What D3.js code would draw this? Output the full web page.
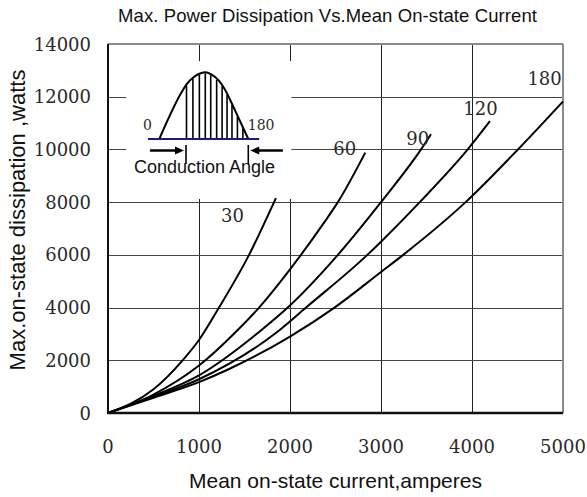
<!DOCTYPE html>
<html><head><meta charset="utf-8">
<script src="https://cdn.jsdelivr.net/npm/d3@7"></script>
<style>body{margin:0;background:#fff}</style>
</head><body>
<svg id="chart" width="587" height="497"></svg>
<script>
// ---- data ----
const xTicks = [0, 1000, 2000, 3000, 4000, 5000];
const yTicks = [0, 2000, 4000, 6000, 8000, 10000, 12000, 14000];
const angleLabels = ["30", "60", "90", "120", "180"];
const current30  = [0, 500, 820, 1000, 1220, 1550, 1845];
const power30    = [0, 900, 2000, 2770, 4000, 6000, 8150];
const current60  = [0, 500, 1000, 1420, 1660, 2000, 2380, 2526, 2827];
const power60    = [0, 700, 1800, 3130, 4000, 5450, 7250, 8000, 9880];
const current90  = [0, 500, 1000, 1680, 1975, 2526, 3000, 3440, 3550];
const power90    = [0, 650, 1430, 3130, 4000, 6000, 8000, 10000, 10580];
const current120 = [0, 500, 1000, 1880, 2176, 2850, 3000, 3426, 3953, 4197];
const power120   = [0, 610, 1280, 3130, 4000, 6000, 6500, 8000, 10000, 11070];
const current180 = [0, 500, 1000, 1313, 2000, 2489, 3000, 3244, 3930, 4500, 5000];
const power180   = [0, 580, 1170, 1640, 2900, 4000, 5350, 6000, 8000, 9980, 11820];
// inset waveform (conduction angle diagram): angle in degrees, relative amplitude
const waveAngle = [0, 45, 55, 70, 85, 93, 105, 120, 133, 150, 165, 180];
const waveAmp   = [0, 0.70, 0.82, 0.93, 0.99, 1.0, 0.97, 0.88, 0.74, 0.48, 0.24, 0];
const hatchAngles = [55, 68, 81, 93, 104, 116, 127, 137, 147, 158, 169];

const title = "Max. Power Dissipation Vs.Mean On-state Current";
const xTitle = "Mean on-state current,amperes";
const yTitle = "Max.on-state dissipation ,watts";

// ---- layout ----
const W = 587, H = 497;
const m = {left: 108, right: 24, top: 44, bottom: 84};
const svg = d3.select("#chart");
const x = d3.scaleLinear().domain([0, 5000]).range([m.left, W - m.right]);
const y = d3.scaleLinear().domain([0, 14000]).range([H - m.bottom, m.top]);

const series = [
  {name: angleLabels[0], xs: current30, ys: power30, lab: [1243, 7247]},
  {name: angleLabels[1], xs: current60, ys: power60, lab: [2475, 9789]},
  {name: angleLabels[2], xs: current90, ys: power90, lab: [3278, 10168]},
  {name: angleLabels[3], xs: current120, ys: power120, lab: [3905, 11306]},
  {name: angleLabels[4], xs: current180, ys: power180, lab: [4609, 12444]},
];

const serif = "'DejaVu Serif', serif";
const sans = "'Liberation Sans', Arial, sans-serif";

// gridlines
svg.append("g").selectAll("line.v").data(xTicks.slice(1, -1)).join("line")
  .attr("x1", d => Math.round(x(d)) + 0.5).attr("x2", d => Math.round(x(d)) + 0.5)
  .attr("y1", y(14000)).attr("y2", y(0))
  .attr("stroke", "#222").attr("stroke-width", 1);
svg.append("g").selectAll("line.h").data(yTicks.slice(1, -1)).join("line")
  .attr("x1", x(0)).attr("x2", x(5000))
  .attr("y1", d => Math.round(y(d)) + 0.5).attr("y2", d => Math.round(y(d)) + 0.5)
  .attr("stroke", "#444").attr("stroke-width", 1);

// frame: top/right gray, left/bottom black
svg.append("line").attr("x1", x(0)).attr("x2", x(5000)).attr("y1", y(14000)).attr("y2", y(14000))
  .attr("stroke", "#8a8a8a").attr("stroke-width", 2);
svg.append("line").attr("x1", x(5000)).attr("x2", x(5000)).attr("y1", y(14000)).attr("y2", y(0))
  .attr("stroke", "#8a8a8a").attr("stroke-width", 2);

// inset white box
svg.append("rect")
  .attr("x", x(200)).attr("y", y(13350))
  .attr("width", x(2015) - x(200)).attr("height", y(8120) - y(13350))
  .attr("fill", "#fff");

// curves
const line = d3.line().x(d => x(d[0])).y(d => y(d[1])).curve(d3.curveMonotoneX);
svg.append("g").selectAll("path").data(series).join("path")
  .attr("d", s => line(s.xs.map((v, i) => [v, s.ys[i]])))
  .attr("fill", "none").attr("stroke", "#000").attr("stroke-width", 2);

svg.append("g").selectAll("text").data(series).join("text")
  .attr("x", s => x(s.lab[0])).attr("y", s => y(s.lab[1]))
  .attr("font-family", serif).attr("font-size", 18).attr("fill", "#2a2a2a")
  .text(s => s.name);

// axes lines
svg.append("line").attr("x1", x(0)).attr("x2", x(0)).attr("y1", y(14000)).attr("y2", y(0) + 1)
  .attr("stroke", "#111").attr("stroke-width", 2);
svg.append("line").attr("x1", x(0) - 1).attr("x2", x(5000)).attr("y1", y(0)).attr("y2", y(0))
  .attr("stroke", "#111").attr("stroke-width", 2.5);

// tick labels
svg.append("g").selectAll("text").data(xTicks).join("text")
  .attr("x", d => x(d)).attr("y", 453).attr("text-anchor", "middle")
  .attr("font-family", serif).attr("font-size", 18).attr("fill", "#2a2a2a")
  .text(d => d);
svg.append("g").selectAll("text").data(yTicks).join("text")
  .attr("x", 91).attr("y", d => y(d) + 6.5).attr("text-anchor", "end")
  .attr("font-family", serif).attr("font-size", 18).attr("fill", "#2a2a2a")
  .text(d => d);

// titles
svg.append("text").attr("x", 118).attr("y", 22).attr("textLength", 419)
  .attr("lengthAdjust", "spacing")
  .attr("font-family", sans).attr("font-size", 18.5).attr("fill", "#111").text(title);
svg.append("text").attr("x", (x(0) + x(5000)) / 2).attr("y", 488).attr("text-anchor", "middle")
  .attr("font-family", sans).attr("font-size", 21).attr("fill", "#111").text(xTitle);
svg.append("text").attr("transform", "translate(25,220) rotate(-90)").attr("text-anchor", "middle")
  .attr("font-family", sans).attr("font-size", 22).attr("fill", "#111").text(yTitle);

// ---- inset diagram ----
const ta = d3.scaleLinear().domain([0, 180]).range([159.3, 248.3]);
const ampY = d3.scaleLinear().domain([0, 1]).range([139, 72.3]);
const wave = waveAngle.map((a, i) => [a, waveAmp[i]]);
const waveLine = d3.line().x(d => ta(d[0])).y(d => ampY(d[1])).curve(d3.curveMonotoneX);
const waveInterp = a => {
  for (let i = 1; i < waveAngle.length; i++) {
    if (a <= waveAngle[i]) {
      const t = (a - waveAngle[i - 1]) / (waveAngle[i] - waveAngle[i - 1]);
      return waveAmp[i - 1] + t * (waveAmp[i] - waveAmp[i - 1]);
    }
  }
  return 0;
};
const ins = svg.append("g");
ins.selectAll("line.hatch").data(hatchAngles).join("line")
  .attr("x1", a => ta(a)).attr("x2", a => ta(a))
  .attr("y1", ampY(0)).attr("y2", a => ampY(waveInterp(a)) + 1)
  .attr("stroke", "#000").attr("stroke-width", 1.6);
ins.append("path").attr("d", waveLine(wave)).attr("fill", "none")
  .attr("stroke", "#000").attr("stroke-width", 2);
ins.append("line").attr("x1", ta(-23)).attr("x2", ta(202)).attr("y1", ampY(0)).attr("y2", ampY(0))
  .attr("stroke", "#1c1c80").attr("stroke-width", 2);
ins.append("text").attr("x", ta(-33)).attr("y", 130).attr("font-family", serif)
  .attr("font-size", 14).attr("fill", "#2a2a2a").text("0");
ins.append("text").attr("x", ta(179)).attr("y", 130).attr("font-family", serif)
  .attr("font-size", 14).attr("fill", "#2a2a2a").text("180");
// arrows
function arrow(a0, a1) {
  const x0 = ta(a0), x1 = ta(a1), yy = 150.5, dir = Math.sign(x1 - x0);
  ins.append("line").attr("x1", x0).attr("x2", x1 - dir * 6).attr("y1", yy).attr("y2", yy)
    .attr("stroke", "#000").attr("stroke-width", 2.5);
  ins.append("path").attr("d", `M${x1},${yy} L${x1 - dir * 9},${yy - 4} L${x1 - dir * 9},${yy + 4} Z`)
    .attr("fill", "#000");
}
arrow(-19, 50);
arrow(250, 184);
[54, 180].forEach(a => ins.append("line").attr("x1", ta(a)).attr("x2", ta(a))
  .attr("y1", 145).attr("y2", 164).attr("stroke", "#000").attr("stroke-width", 1.6));
ins.append("text").attr("x", 204.5).attr("y", 173).attr("text-anchor", "middle")
  .attr("font-family", sans).attr("font-size", 18).attr("fill", "#111").text("Conduction Angle");
</script>
</body></html>
